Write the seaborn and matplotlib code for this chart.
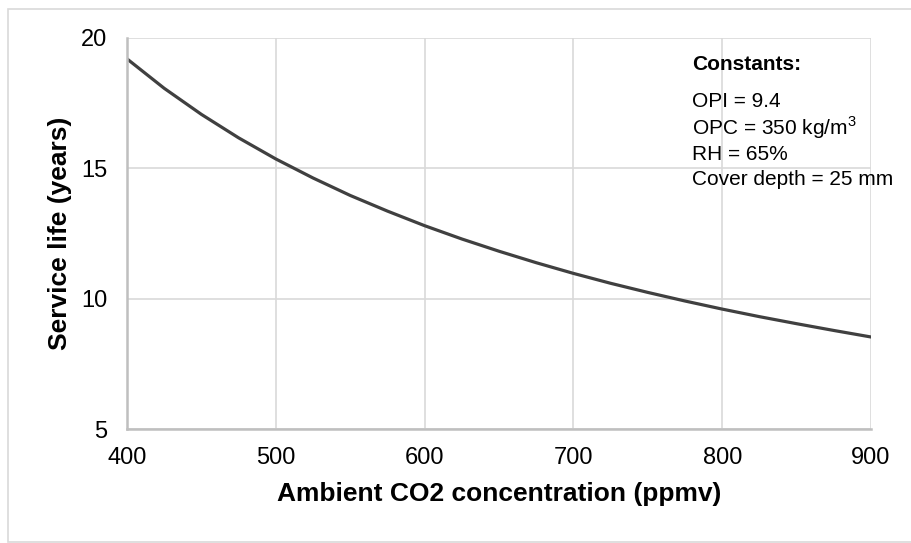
import matplotlib
matplotlib.use("Agg")
import matplotlib.pyplot as plt
import seaborn as sns
import pandas as pd
from matplotlib.patches import Rectangle

co2_ppmv = [400, 425, 450, 475, 500, 525, 550, 575, 600, 625, 650,
            675, 700, 725, 750, 775, 800, 825, 850, 875, 900]
service_life = [19.2, 18.07, 17.07, 16.17, 15.36, 14.63, 13.96, 13.36, 12.8,
                12.29, 11.82, 11.38, 10.97, 10.59, 10.24, 9.91, 9.6, 9.31,
                9.04, 8.78, 8.53]
x_ticks = [400, 500, 600, 700, 800, 900]
y_ticks = [5, 10, 15, 20]
constants_title = "Constants:"
constants_lines = ["OPI = 9.4", "OPC = 350 kg/m$^3$", "RH = 65%", "Cover depth = 25 mm"]

sns.set_theme(style="white")
plt.rcParams['font.family'] = ['Liberation Sans', 'DejaVu Sans']
plt.rcParams['mathtext.fontset'] = 'custom'
plt.rcParams['mathtext.rm'] = 'Liberation Sans'
plt.rcParams['text.color'] = 'black'
plt.rcParams['axes.labelcolor'] = 'black'

df = pd.DataFrame({"co2": co2_ppmv, "life": service_life})

fig = plt.figure(figsize=(9.12, 5.43), dpi=100)
ax = fig.add_axes([127/912, 1-429/543, (871-127)/912, (429-38)/543])

sns.lineplot(data=df, x="co2", y="life", ax=ax, color="#404040", linewidth=2.3)

ax.set_xlim(400, 900)
ax.set_ylim(5, 20)
ax.set_xticks(x_ticks)
ax.set_yticks(y_ticks)
ax.grid(True, color="#d9d9d9", linewidth=1.2)
ax.set_axisbelow(True)
for s in ["top", "right"]:
    ax.spines[s].set_visible(False)
for s in ["left", "bottom"]:
    ax.spines[s].set_color("#bfbfbf")
    ax.spines[s].set_linewidth(1.8)
ax.tick_params(axis="both", length=0, labelsize=17, colors="black")
ax.tick_params(axis="x", pad=13)
ax.tick_params(axis="y", pad=14)
ax.set_xlabel("Ambient CO2 concentration (ppmv)", fontsize=19, fontweight="bold", labelpad=9, color="black")
ax.set_ylabel("Service life (years)", fontsize=19, fontweight="bold", labelpad=7, color="black")

fig.text(692/912, 1-70/543, constants_title, fontsize=15, fontweight="bold", ha="left", va="baseline", color="black")
baselines = [107, 135, 160, 185]
for t, b in zip(constants_lines, baselines):
    fig.text(692/912, 1-b/543, t, fontsize=15, ha="left", va="baseline", color="black")

fig.patches.append(Rectangle((8/912, 1.5/543), 1 - 8/912, (541.5-9)/543,
                             transform=fig.transFigure, fill=False,
                             edgecolor="#d9d9d9", linewidth=1.2))

fig.savefig("out.png", dpi=100)
